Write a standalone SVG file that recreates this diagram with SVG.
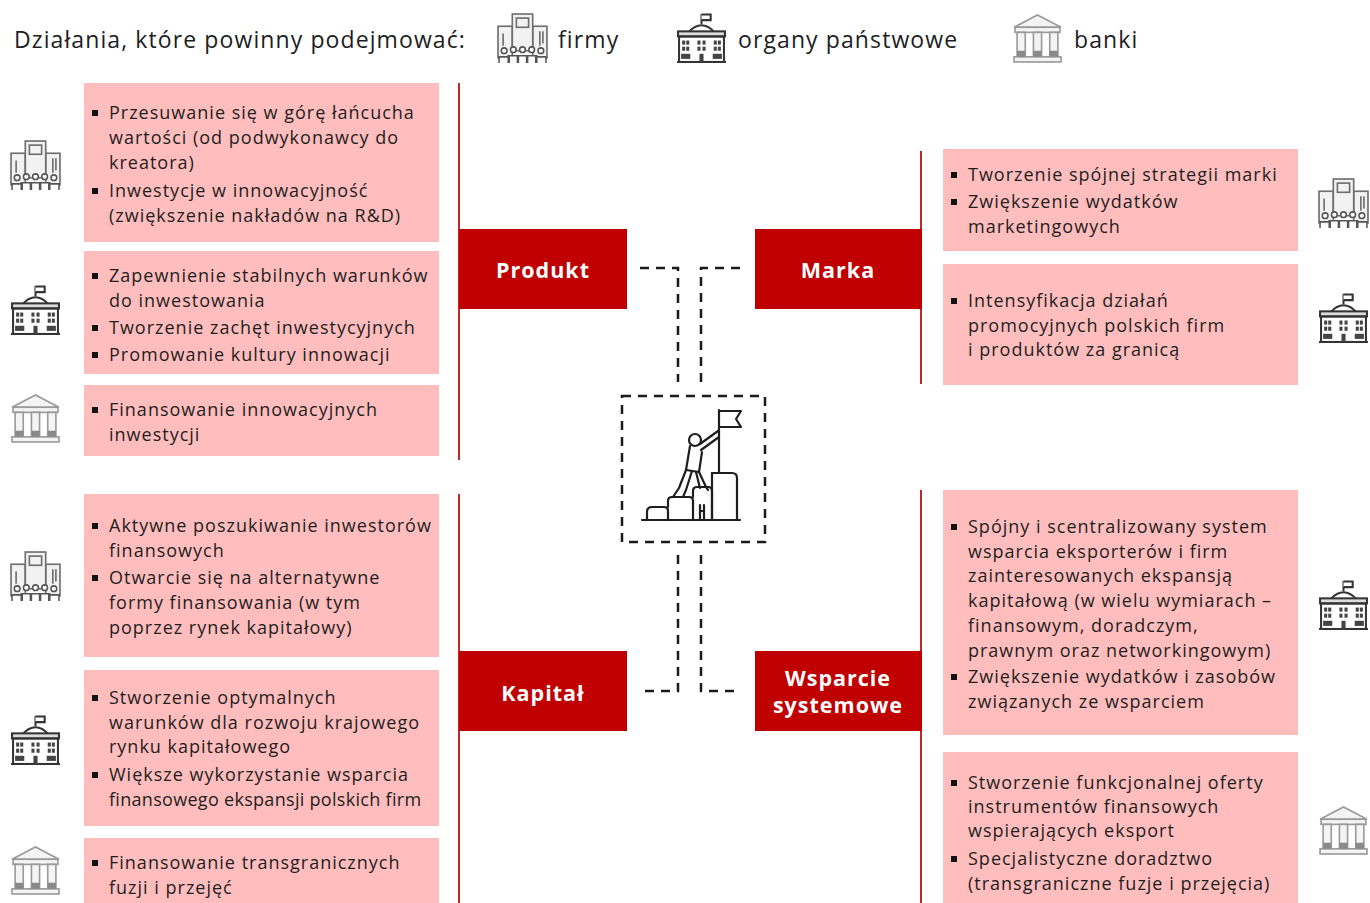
<svg xmlns="http://www.w3.org/2000/svg" width="1370" height="903" viewBox="0 0 1370 903">
  <style>
    .box { fill: #ffbdbd; }
    .pillar { fill: #c00000; }
    .rule { stroke: #c0282a; stroke-width: 2; }
    .t { font-family: "Open Sans", Lato, sans-serif; font-size: 18px; fill: #1e1e1e; letter-spacing: 1px; }
    .tight { letter-spacing: 0.3px; }
    .hdr { font-family: "Open Sans", Lato, sans-serif; font-size: 23px; fill: #1e1e1e; letter-spacing: 1.1px; }
    .lbl { font-family: "Open Sans", Lato, sans-serif; font-size: 21.5px; font-weight: 700; fill: #ffffff; text-anchor: middle; letter-spacing: 1px; }
    .dash { fill: none; stroke: #1a1a1a; stroke-width: 2.5; stroke-dasharray: 9 7; }
    .fig { fill: none; stroke: #1e1e1e; stroke-width: 2.2; stroke-linecap: round; stroke-linejoin: round; }
  </style>
  <defs>
    <rect id="b" width="6" height="6" fill="#111"/>
    <!-- company buildings with people -->
    <symbol id="firm" viewBox="0 0 50 50">
      <g fill="#f2f2f2" stroke="#6e6e6e" stroke-width="1.6">
        <rect x="1" y="13" width="14" height="31"/>
        <rect x="35" y="13" width="14" height="31"/>
        <rect x="15" y="1" width="20" height="36"/>
        <rect x="19" y="5" width="12" height="9"/>
        <line x1="42" y1="18" x2="42" y2="32"/>
        <line x1="45" y1="18" x2="45" y2="30"/>
        <line x1="6" y1="20" x2="6" y2="32"/>
      </g>
      <g fill="#ffffff" stroke="#555" stroke-width="1.5">
        <circle cx="7" cy="37" r="2.8"/><circle cx="16" cy="36" r="2.8"/><circle cx="25" cy="36" r="2.8"/><circle cx="34" cy="36" r="2.8"/><circle cx="43" cy="37" r="2.8"/>
        <path d="M2 49 V43 H12 V49 M11 49 V42 H21 V49 M20 49 V42 H30 V49 M29 49 V42 H39 V49 M38 49 V43 H48 V49"/>
      </g>
    </symbol>
    <!-- government building with dome and flag -->
    <symbol id="gov" viewBox="0 0 50 50">
      <g fill="none" stroke="#333" stroke-width="2">
        <line x1="25" y1="1" x2="25" y2="11"/>
        <path d="M25 1.5 H34 V7 H25" fill="#fff"/>
        <path d="M12 19 Q25 5 38 19"/>
        <rect x="2" y="18" width="46" height="5" fill="#ddd"/>
        <rect x="3" y="23" width="44" height="25"/>
        <line x1="1" y1="48" x2="49" y2="48"/>
      </g>
      <g fill="#444">
        <rect x="6" y="27" width="3" height="4"/><rect x="10" y="27" width="3" height="4"/><rect x="6" y="33" width="3" height="4"/><rect x="10" y="33" width="3" height="4"/>
        <rect x="21" y="27" width="3" height="4"/><rect x="26" y="27" width="3" height="4"/><rect x="21" y="33" width="3" height="4"/><rect x="26" y="33" width="3" height="4"/>
        <rect x="37" y="27" width="3" height="4"/><rect x="41" y="27" width="3" height="4"/><rect x="37" y="33" width="3" height="4"/><rect x="41" y="33" width="3" height="4"/>
        <rect x="5" y="40" width="9" height="5"/><rect x="36" y="40" width="9" height="5"/>
        <rect x="23" y="40" width="4" height="8"/>
      </g>
    </symbol>
    <!-- bank with pediment and columns -->
    <symbol id="bank" viewBox="0 0 50 50">
      <g fill="#f4f4f4" stroke="#9a9a9a" stroke-width="1.6">
        <path d="M2 14 L25 2 L48 14 Z"/>
        <rect x="3" y="14" width="44" height="5"/>
        <rect x="5" y="19" width="8" height="24"/>
        <rect x="21" y="19" width="8" height="24"/>
        <rect x="37" y="19" width="8" height="24"/>
        <rect x="2" y="43" width="46" height="5"/>
      </g>
      <g fill="#8a8a8a">
        <rect x="5" y="37" width="8" height="6"/><rect x="21" y="37" width="8" height="6"/><rect x="37" y="37" width="8" height="6"/>
      </g>
    </symbol>
  </defs>

  <!-- legend -->
  <g id="legend">
    <text class="hdr" x="14" y="48">Działania, które powinny podejmować:</text>
    <use href="#firm" x="497" y="13" width="51" height="51"/>
    <text class="hdr" x="558" y="48">firmy</text>
    <use href="#gov" x="676" y="13" width="51" height="51"/>
    <text class="hdr" x="738" y="48">organy państwowe</text>
    <use href="#bank" x="1012" y="13" width="51" height="51"/>
    <text class="hdr" x="1074" y="48">banki</text>
  </g>

  <!-- divider rules -->
  <g id="rules">
    <line class="rule" x1="459" y1="83" x2="459" y2="460"/>
    <line class="rule" x1="459" y1="494" x2="459" y2="903"/>
    <line class="rule" x1="921" y1="151" x2="921" y2="384"/>
    <line class="rule" x1="921" y1="490" x2="921" y2="903"/>
  </g>

  <!-- connectors -->
  <g id="connectors">
    <path class="dash" d="M640 268 H678 V382"/>
    <path class="dash" d="M740 268 H701 V382"/>
    <path class="dash" d="M678 555 V691 H642"/>
    <path class="dash" d="M701 555 V691 H738"/>
  </g>

  <!-- central figure -->
  <g id="center">
    <rect class="dash" x="622" y="396" width="143" height="146"/>
    <g class="fig">
      <line x1="642" y1="520" x2="740" y2="520"/>
      <path d="M647 520 V512 Q647 507 652 507 H664 Q668 507 668 511 V520"/>
      <path d="M668 507 V501 Q668 497 672 497 H689 Q693 497 693 501 V520"/>
      <path d="M693 497 V491 Q693 487 697 487 H708 Q712 487 712 491 V520"/>
      <path d="M712 473 H732 Q737 473 737 478 V520"/>
      <path d="M712 473 V520"/>
      <path d="M700 505 V520 M704 505 V520 M700 511 H704"/>
      <line x1="719" y1="410" x2="719" y2="473"/>
      <path d="M719 411 H741 L736 419 L741 427 H719"/>
      <circle cx="695" cy="440" r="6"/>
      <path d="M700 444 L718 431 M701 450 L719 437"/>
      <path d="M690 446 L686 470 L699 472 L702 452"/>
      <path d="M686 470 L679 488 L673 497 M692 471 L686 490 L683 497"/>
      <path d="M699 472 L706 487 L708 490 M696 472 L700 488"/>
    </g>
  </g>

  <!-- pillars -->
  <g id="produkt">
    <rect class="pillar" x="459" y="229" width="168" height="80"/>
    <text class="lbl" x="543" y="278">Produkt</text>
  </g>
  <g id="marka">
    <rect class="pillar" x="755" y="229" width="167" height="80"/>
    <text class="lbl" x="838" y="278">Marka</text>
  </g>
  <g id="kapital">
    <rect class="pillar" x="459" y="651" width="168" height="80"/>
    <text class="lbl" x="543" y="701">Kapitał</text>
  </g>
  <g id="wsparcie">
    <rect class="pillar" x="755" y="651" width="167" height="80"/>
    <text class="lbl" x="838" y="686">Wsparcie</text>
    <text class="lbl" x="838" y="713">systemowe</text>
  </g>

  <!-- left column: Produkt actions -->
  <g id="l1">
    <rect class="box" x="84" y="83" width="355" height="159"/>
    <use href="#firm" x="10" y="140" width="51" height="51"/>
    <use href="#b" x="92" y="110"/><use href="#b" x="92" y="188"/>
    <text class="t" x="109" y="119">Przesuwanie się w górę łańcucha</text>
    <text class="t" x="109" y="144">wartości (od podwykonawcy do</text>
    <text class="t" x="109" y="169">kreatora)</text>
    <text class="t" x="109" y="197">Inwestycje w innowacyjność</text>
    <text class="t" x="109" y="222">(zwiększenie nakładów na R&amp;D)</text>
  </g>
  <g id="l2">
    <rect class="box" x="84" y="251" width="355" height="123"/>
    <use href="#gov" x="10" y="285" width="51" height="51"/>
    <use href="#b" x="92" y="273"/><use href="#b" x="92" y="325"/><use href="#b" x="92" y="352"/>
    <text class="t" x="109" y="282">Zapewnienie stabilnych warunków</text>
    <text class="t" x="109" y="307">do inwestowania</text>
    <text class="t" x="109" y="334">Tworzenie zachęt inwestycyjnych</text>
    <text class="t" x="109" y="361">Promowanie kultury innowacji</text>
  </g>
  <g id="l3">
    <rect class="box" x="84" y="385" width="355" height="71"/>
    <use href="#bank" x="10" y="393" width="51" height="51"/>
    <use href="#b" x="92" y="407"/>
    <text class="t" x="109" y="416">Finansowanie innowacyjnych</text>
    <text class="t" x="109" y="441">inwestycji</text>
  </g>

  <!-- left column: Kapitał actions -->
  <g id="l4">
    <rect class="box" x="84" y="494" width="355" height="163"/>
    <use href="#firm" x="10" y="551" width="51" height="51"/>
    <use href="#b" x="92" y="523"/><use href="#b" x="92" y="575"/>
    <text class="t" x="109" y="532">Aktywne poszukiwanie inwestorów</text>
    <text class="t" x="109" y="557">finansowych</text>
    <text class="t" x="109" y="584">Otwarcie się na alternatywne</text>
    <text class="t" x="109" y="609">formy finansowania (w tym</text>
    <text class="t" x="109" y="634">poprzez rynek kapitałowy)</text>
  </g>
  <g id="l5">
    <rect class="box" x="84" y="670" width="355" height="156"/>
    <use href="#gov" x="10" y="715" width="51" height="51"/>
    <use href="#b" x="92" y="695"/><use href="#b" x="92" y="772"/>
    <text class="t" x="109" y="704">Stworzenie optymalnych</text>
    <text class="t" x="109" y="729">warunków dla rozwoju krajowego</text>
    <text class="t" x="109" y="753">rynku kapitałowego</text>
    <text class="t" x="109" y="781">Większe wykorzystanie wsparcia</text>
    <text class="t tight" x="109" y="806">finansowego ekspansji polskich firm</text>
  </g>
  <g id="l6">
    <rect class="box" x="84" y="838" width="355" height="65"/>
    <use href="#bank" x="10" y="845" width="51" height="51"/>
    <use href="#b" x="92" y="860"/>
    <text class="t" x="109" y="869">Finansowanie transgranicznych</text>
    <text class="t" x="109" y="894">fuzji i przejęć</text>
  </g>

  <!-- right column: Marka actions -->
  <g id="r1">
    <rect class="box" x="943" y="149" width="355" height="102"/>
    <use href="#firm" x="1318" y="178" width="51" height="51"/>
    <use href="#b" x="951" y="172"/><use href="#b" x="951" y="199"/>
    <text class="t" x="968" y="181">Tworzenie spójnej strategii marki</text>
    <text class="t" x="968" y="208">Zwiększenie wydatków</text>
    <text class="t" x="968" y="233">marketingowych</text>
  </g>
  <g id="r2">
    <rect class="box" x="943" y="264" width="355" height="121"/>
    <use href="#gov" x="1318" y="293" width="51" height="51"/>
    <use href="#b" x="951" y="298"/>
    <text class="t" x="968" y="307">Intensyfikacja działań</text>
    <text class="t" x="968" y="332">promocyjnych polskich firm</text>
    <text class="t" x="968" y="356">i produktów za granicą</text>
  </g>

  <!-- right column: Wsparcie systemowe actions -->
  <g id="r3">
    <rect class="box" x="943" y="490" width="355" height="245"/>
    <use href="#gov" x="1318" y="580" width="51" height="51"/>
    <use href="#b" x="951" y="524"/><use href="#b" x="951" y="674"/>
    <text class="t" x="968" y="533">Spójny i scentralizowany system</text>
    <text class="t" x="968" y="558">wsparcia eksporterów i firm</text>
    <text class="t" x="968" y="582">zainteresowanych ekspansją</text>
    <text class="t" x="968" y="607">kapitałową (w wielu wymiarach –</text>
    <text class="t" x="968" y="632">finansowym, doradczym,</text>
    <text class="t" x="968" y="657">prawnym oraz networkingowym)</text>
    <text class="t" x="968" y="683">Zwiększenie wydatków i zasobów</text>
    <text class="t" x="968" y="708">związanych ze wsparciem</text>
  </g>
  <g id="r4">
    <rect class="box" x="943" y="752" width="355" height="151"/>
    <use href="#bank" x="1318" y="805" width="51" height="51"/>
    <use href="#b" x="951" y="780"/><use href="#b" x="951" y="856"/>
    <text class="t" x="968" y="789">Stworzenie funkcjonalnej oferty</text>
    <text class="t" x="968" y="813">instrumentów finansowych</text>
    <text class="t" x="968" y="837">wspierających eksport</text>
    <text class="t" x="968" y="865">Specjalistyczne doradztwo</text>
    <text class="t" x="968" y="890">(transgraniczne fuzje i przejęcia)</text>
  </g>
</svg>
